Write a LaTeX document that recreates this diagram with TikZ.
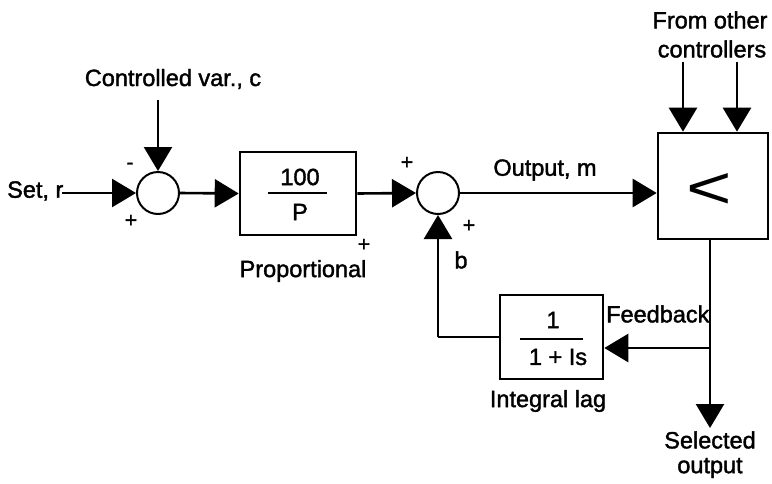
\documentclass[tikz,border=0pt]{standalone}
\usepackage{fontspec}
\setmainfont{Liberation Sans}
\newfontfamily\lblfont{Liberation Sans}[FakeBold=1.6]
\usetikzlibrary{arrows.meta}
\begin{document}
\begin{tikzpicture}[x=1pt,y=-1pt,
  lbl/.style={inner sep=0pt,font=\lblfont\fontsize{23.5}{26}\selectfont},
  sgn/.style={inner sep=0pt,font=\lblfont\fontsize{21}{22}\selectfont},
  sumc/.style={circle,draw,line width=2pt,minimum size=42pt,inner sep=0pt},
  blk/.style={rectangle,draw,line width=2.6pt,inner sep=0pt},
  wire/.style={line width=2.6pt},
  arr/.style={wire,-{Triangle[length=24pt,width=28pt]}},
  frac/.style={line width=2.4pt}
]
\useasboundingbox (0,0) rectangle (772,483);
% nodes
\node[sumc] (s1) at (158,193) {};
\node[blk,minimum width=116pt,minimum height=83pt] (prop) at (298,193.5) {};
\node[sumc] (s2) at (438,193) {};
\node[blk,minimum width=110pt,minimum height=106pt] (sel) at (713,186) {};
\node[blk,minimum width=103pt,minimum height=84pt] (lag) at (551.5,337) {};
% coordinates
\coordinate (setin) at (62,193);
\coordinate (cvtop) at (158,100);
\coordinate (fo1) at (683,62);
\coordinate (fo2) at (737,62);
\coordinate (selbot) at (710,239);
\coordinate (branch) at (710,348);
\coordinate (selout) at (710,428);
\coordinate (corner) at (438,337);
% texts
\node[lbl,anchor=west] (tset) at (7,191) {Set, r};
\node[lbl] (tcv) at (173,79) {Controlled var., c};
\node[sgn] (m1) at (130,166) {-};
\node[sgn] (p1) at (131,221) {+};
\node[lbl] (n100) at (300,177) {100};
\node[lbl] (nP) at (300,212) {P};
\draw[frac] (268,193) -- (327,193);
\node[sgn] (p2) at (364,245) {+};
\node[lbl] (tprop) at (303,271) {Proportional};
\node[sgn] (p3) at (407,163) {+};
\node[sgn] (p4) at (469,226) {+};
\node[lbl] (tb) at (461,260) {b};
\node[lbl] (tout) at (545,170) {Output, m};
\node[inner sep=0pt,font=\fontsize{60}{60}\selectfont,xscale=1.3] (lt) at (709,191) {<};
\node[lbl] (tfo1) at (710,20) {From other};
\node[lbl] (tfo2) at (712,49) {controllers};
\node[lbl,anchor=west] (tfb) at (606,314) {Feedback};
\node[lbl] (n1) at (553,320) {1};
\draw[frac] (520,339) -- (583,339);
\node[lbl] (nIs) at (558,357) {1 + Is};
\node[lbl] (tlag) at (548,401) {Integral lag};
\node[lbl] (tsel1) at (710,440) {Selected};
\node[lbl] (tsel2) at (710,468) {output};
% connectors
\draw[arr] (setin) -- (s1.west);
\draw[arr] (cvtop) -- (s1.north);
\draw[arr] (s1.east) -- (prop.west);
\draw[arr] (prop.east) -- (s2.west);
\draw[arr] (s2.east) -- (s2.east -| sel.west);
\draw[arr] (fo1) -- (fo1 |- sel.north);
\draw[arr] (fo2) -- (fo2 |- sel.north);
\draw[arr] (selbot) -- (selout);
\draw[arr] (branch) -- (branch -| lag.east);
\draw[wire] (lag.west |- corner) -- (corner);
\draw[arr] (corner) -- (s2.south);
\end{tikzpicture}
\end{document}
